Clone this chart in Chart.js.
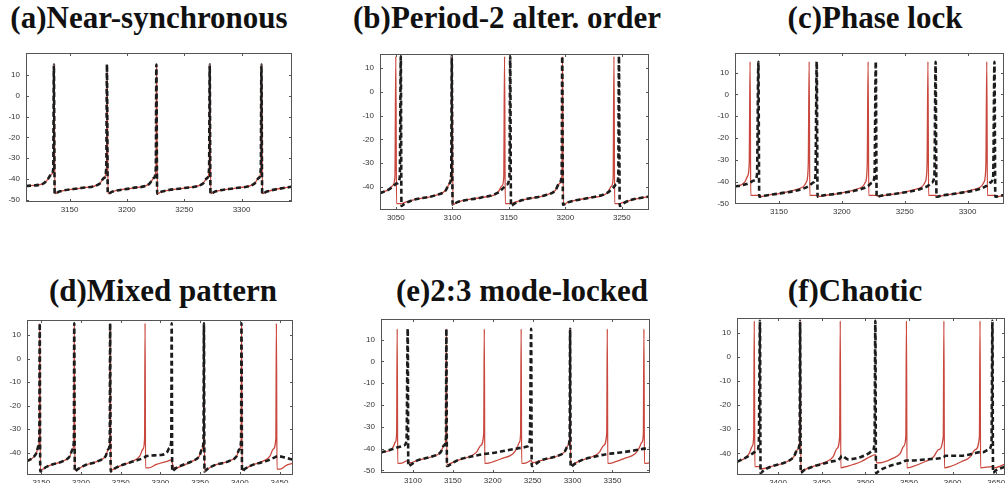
<!DOCTYPE html>
<html>
<head>
<meta charset="utf-8">
<script src="https://cdn.jsdelivr.net/npm/chart.js@4"></script>
<style>
  body { margin: 0; width: 1006px; height: 483px; overflow: hidden; background: #fff; position: relative; }
  .title { position: absolute; font: bold 31px "Liberation Serif", "Times New Roman", serif; line-height: 31px; white-space: nowrap; transform: translateX(-50%); color: #111; }
  canvas { position: absolute; }
</style>
</head>
<body>
<script>
// membrane potential traces, [time, mV]; black = cell 1 (dashed), red = cell 2
const yTicks = [-50, -40, -30, -20, -10, 0, 10]

const nearSyncTicks = [3150, 3200, 3250, 3300]
const nearSyncBlack = [[3112,-43.3],[3127,-42.2],[3131,-40],[3134.5,-37.5],[3135.8,-35],[3136.3,15],[3137,-47],[3141,-46],[3160,-44.3],[3176,-42.3],[3180,-39.5],[3182,-35],[3182.6,15],[3183.3,-47],[3187.5,-46],[3205,-44.3],[3219.5,-42.3],[3223.5,-39.5],[3225.2,-35],[3225.7,15],[3226.4,-47],[3230.5,-46],[3250,-44.3],[3266,-42.3],[3270,-39.5],[3271.7,-35],[3272.2,15],[3272.9,-47],[3277,-46],[3295,-44.3],[3311,-42.3],[3315,-39.5],[3316.8,-35],[3317.3,15],[3318,-47],[3322,-46],[3344,-43.6]]
const nearSyncRed = [[3112,-43.3],[3127,-42.2],[3131,-40.2],[3134.6,-37.5],[3136,-35],[3136.5,15],[3137.2,-47],[3141,-46],[3160,-44.3],[3176,-42.3],[3180,-39.5],[3182.2,-35],[3182.8,15],[3183.5,-47],[3187.5,-46],[3205,-44.3],[3219.5,-42.3],[3223.5,-39.5],[3225.4,-35],[3225.9,15],[3226.6,-47],[3230.5,-46],[3250,-44.3],[3266,-42.3],[3270,-39.5],[3271.9,-35],[3272.4,15],[3273.1,-47],[3277,-46],[3295,-44.3],[3311,-42.3],[3315,-39.5],[3317,-35],[3317.5,15],[3318.2,-47],[3322,-46],[3344,-43.6]]

const period2Ticks = [3050, 3100, 3150, 3200, 3250]
const period2Black = [[3036,-42.6],[3044,-41],[3048,-39.5],[3051,-38.5],[3053.5,-36],[3054.4,15],[3055,-48],[3058,-47],[3065,-45.5],[3085,-43.5],[3094,-41.5],[3097.5,-38.5],[3099,-35],[3099.5,15],[3100.2,-47.5],[3104,-46.5],[3125,-44.5],[3140,-42.5],[3145,-40.5],[3148,-39],[3150.5,-36],[3151.2,15],[3151.9,-48],[3155,-47],[3162,-45.5],[3182,-43.5],[3191,-41.5],[3194.7,-38.5],[3196.7,-35],[3197.2,15],[3197.9,-47.5],[3202,-46.5],[3222,-44.5],[3237,-42.5],[3242,-40.5],[3245,-39],[3246.8,-36],[3247.4,15],[3248.1,-48],[3251,-47],[3258,-45.5],[3274,-44]]
const period2Red = [[3036,-42.6],[3044,-41],[3047,-39.5],[3049.2,-36],[3050,15],[3050.6,-47],[3055,-47],[3058,-46.5],[3065,-45.5],[3085,-43.5],[3094,-41.5],[3097.7,-38.5],[3099.3,-35],[3099.8,15],[3100.5,-47.5],[3104,-46.5],[3125,-44.5],[3140,-42.5],[3144,-39.5],[3145.5,-36],[3146.2,15],[3146.8,-47],[3151,-47],[3155,-46.5],[3162,-45.5],[3182,-43.5],[3191,-41.5],[3195,-38.5],[3197,-35],[3197.5,15],[3198.2,-47.5],[3202,-46.5],[3222,-44.5],[3237,-42.5],[3241,-39.5],[3242.3,-36],[3243,15],[3243.6,-47],[3248,-47],[3251,-46.5],[3258,-45.5],[3274,-44]]

const phaseLockTicks = [3150, 3200, 3250, 3300]
const phaseLockBlack = [[3115,-42.3],[3122,-41.5],[3127,-40.5],[3130,-39.5],[3132.5,-37],[3133.6,15],[3134.3,-47],[3138,-46.5],[3150,-45.5],[3168,-43.5],[3174,-42],[3177,-40.5],[3179,-37.5],[3180,15],[3180.7,-47],[3184,-46.5],[3197,-45.5],[3215,-43.5],[3221,-42],[3224,-40.5],[3226,-37.5],[3227,15],[3227.7,-47],[3231,-46.5],[3244,-45.5],[3262,-43.5],[3268.5,-42],[3271.5,-40.5],[3273.6,-37.5],[3274.6,15],[3275.3,-47],[3279,-46.5],[3291,-45.5],[3309,-43.5],[3315,-42],[3318,-40.5],[3320.4,-37.5],[3321.4,15],[3322.1,-47],[3326,-46.5],[3329,-46.2]]
const phaseLockRed = [[3115,-42.3],[3120,-41.5],[3123,-40],[3125,-37.5],[3126.3,-32],[3127,15],[3127.5,-46.3],[3133.6,-46.3],[3136,-46.8],[3140,-46.3],[3150,-45.5],[3163,-43.8],[3169,-42.5],[3172,-40],[3173.3,-32],[3174,15],[3174.5,-46.3],[3180,-46.3],[3182.5,-46.8],[3187,-46.3],[3197,-45.5],[3210,-43.8],[3216,-42.5],[3219,-40],[3220.2,-32],[3220.9,15],[3221.4,-46.3],[3227,-46.3],[3229.5,-46.8],[3234,-46.3],[3244,-45.5],[3257,-43.8],[3263.5,-42.5],[3266.5,-40],[3267.8,-32],[3268.5,15],[3269,-46.3],[3274.6,-46.3],[3277,-46.8],[3281,-46.3],[3291,-45.5],[3304,-43.8],[3310.3,-42.5],[3313.3,-40],[3314.6,-32],[3315.3,15],[3315.8,-46.3],[3321.4,-46.3],[3324,-46.8],[3329,-46.4]]

const mixedTicks = [3150, 3200, 3250, 3300, 3350, 3400, 3450]
const mixedBlack = [[3132,-43.6],[3140,-42],[3144,-40],[3146.5,-37],[3147.5,-34],[3148,15],[3148.7,-48],[3152,-47],[3160,-45.5],[3178,-43.5],[3186,-41.5],[3189.5,-38.5],[3191,-35],[3191.5,15],[3192.2,-48],[3196,-47],[3204,-45.5],[3222,-43.5],[3231,-41.5],[3234.5,-38.5],[3236.2,-35],[3236.7,15],[3237.4,-48],[3241,-47],[3250,-45.5],[3268,-43.5],[3280,-42],[3282,-41.5],[3300,-41],[3308,-40],[3311.5,-38],[3313.7,-35],[3314.2,15],[3314.9,-48],[3318,-47],[3326,-45.5],[3341,-43.5],[3349,-41.5],[3352.5,-38.5],[3354.3,-35],[3354.8,15],[3355.5,-48],[3359,-47],[3367,-45.5],[3387,-43.5],[3396,-41.5],[3399.5,-38.5],[3401.6,-35],[3402.1,15],[3402.8,-48],[3406,-47],[3414,-45.5],[3434,-43.5],[3444,-42],[3448,-41.5],[3456,-42],[3467,-43]]
const mixedRed = [[3132,-43.6],[3140,-42],[3144,-40],[3146.5,-37],[3147.6,-34],[3148.1,15],[3148.8,-47.5],[3152,-47],[3160,-45.5],[3178,-43.5],[3186,-41.5],[3189.5,-38.5],[3191.1,-35],[3191.6,15],[3192.3,-47.5],[3196,-47],[3204,-45.5],[3222,-43.5],[3231,-41.5],[3234.5,-38.5],[3236.3,-35],[3236.8,15],[3237.5,-47.5],[3241,-47],[3250,-45.5],[3266,-43.5],[3274,-41.5],[3278,-38.5],[3280.1,-34],[3280.7,15],[3281.3,-46.5],[3285,-46.5],[3295,-45],[3310,-43.5],[3314.2,-43],[3316,-46],[3320,-46.5],[3328,-45.5],[3341,-43.5],[3349,-41.5],[3352.5,-38.5],[3354.4,-35],[3354.9,15],[3355.6,-47.5],[3359,-47],[3367,-45.5],[3387,-43.5],[3396,-41.5],[3399.5,-38.5],[3401.7,-35],[3402.2,15],[3402.9,-47.5],[3406,-47],[3414,-45.5],[3430,-43.5],[3438,-41.5],[3442,-38.5],[3445.4,-34],[3446.1,15],[3446.8,-47],[3451,-47],[3458,-45.5],[3467,-44.5]]

const modeLockedTicks = [3100, 3150, 3200, 3250, 3300, 3350]
const modeLockedBlack = [[3060,-41.8],[3072,-40.5],[3080,-39.5],[3085,-39],[3089,-38.5],[3092,-36],[3093.5,15],[3094.2,-48],[3097,-47.5],[3105,-45.5],[3125,-43.5],[3135,-41.5],[3139,-38.5],[3141.4,-35],[3141.9,15],[3142.6,-48],[3146,-47.5],[3155,-45.5],[3175,-43.5],[3189,-42.5],[3200,-42],[3215,-41],[3230,-40],[3238,-39.5],[3243,-39],[3246.5,-36],[3248.1,15],[3248.8,-48],[3252,-47.5],[3260,-45.5],[3280,-43.5],[3290,-41.5],[3294.4,-38.5],[3296.4,-35],[3296.9,15],[3297.6,-48.5],[3301,-47.5],[3310,-45.5],[3330,-43.5],[3343.5,-42.5],[3355,-42],[3375,-41],[3390,-40],[3397,-39.8]]
const modeLockedRed = [[3060,-41.8],[3070,-41],[3075,-39.5],[3078,-37],[3079.6,-33],[3080.3,15],[3080.9,-46.8],[3087,-46.5],[3093.5,-45.5],[3096,-46.5],[3105,-45.5],[3125,-43.5],[3135,-41.5],[3139,-38.5],[3141.3,-35],[3141.8,15],[3142.5,-47.5],[3146,-47],[3155,-45.5],[3172,-43.5],[3180,-41.5],[3185,-38.5],[3188.7,-33],[3189.4,15],[3190,-46.8],[3196,-46.5],[3212,-44.5],[3225,-42.5],[3230,-40],[3233.5,-37],[3234.9,-33],[3235.6,15],[3236.2,-46.8],[3242,-46.5],[3248.1,-45.5],[3250,-46.5],[3260,-45.5],[3280,-43.5],[3290,-41.5],[3294.4,-38.5],[3296.3,-35],[3296.8,15],[3297.5,-47.5],[3301,-47],[3310,-45.5],[3326,-43.5],[3334,-41.5],[3339,-38.5],[3342.8,-33],[3343.5,15],[3344.1,-46.8],[3350,-46.5],[3365,-44.5],[3378,-42.5],[3383,-40],[3387,-37],[3388.7,-33],[3389.4,15],[3390,-46.8],[3397,-46.5]]

const chaoticTicks = [3400, 3450, 3500, 3550, 3600, 3650]
const chaoticBlack = [[3353,-43.5],[3362,-42],[3369,-40.5],[3373,-39.5],[3376,-38.5],[3378,-36],[3379.3,15],[3380,-48.2],[3384,-47],[3392,-45.5],[3410,-43.5],[3418,-41.5],[3422.3,-38.5],[3424.8,-35],[3425.3,15],[3426,-48],[3430,-47],[3440,-45.5],[3460,-43.5],[3471.3,-42],[3473,-41],[3480,-42.5],[3495,-41.5],[3504,-40],[3508,-39],[3510.5,-36],[3511.5,15],[3512.2,-48.2],[3516,-47.2],[3526,-45.5],[3540,-44],[3547.1,-43],[3549,-43],[3570,-42.5],[3590,-41.5],[3592,-41],[3610,-41],[3625,-40],[3631.4,-39.5],[3635,-39.5],[3641,-38.5],[3644.5,-36],[3645.6,15],[3646.3,-48],[3650,-47],[3660,-45.5]]
const chaoticRed = [[3353,-43.5],[3362,-42],[3367,-40],[3370.5,-37],[3372.1,-33],[3372.8,15],[3373.4,-45.5],[3379.3,-45.5],[3381,-46.5],[3392,-45.5],[3410,-43.5],[3418,-41.5],[3422.3,-38.5],[3424.8,-35],[3425.4,15],[3426.1,-47.5],[3430,-46.8],[3440,-45.5],[3455,-43.5],[3463,-41.5],[3467.5,-38],[3470.6,-33],[3471.3,15],[3471.9,-46],[3478,-45.5],[3495,-43.5],[3505,-41.5],[3511.5,-40.5],[3513,-44],[3520,-43.8],[3532,-42],[3540,-40],[3544,-37],[3546.4,-33],[3547.1,15],[3547.7,-46],[3554,-45.5],[3568,-43.5],[3578,-41.5],[3584,-38.5],[3589.3,-33],[3590,15],[3590.6,-46],[3597,-45.5],[3610,-43.5],[3620,-41.5],[3626,-38.5],[3630.7,-33],[3631.4,15],[3632,-46],[3645.6,-45.5],[3648,-46],[3660,-44.5]]

// plot boxes in page pixels: left, top, right, bottom
const panels = [
  { title: '(a)Near-synchronous', tx: 149, ty: 2, box: [26, 53, 292, 202], x: [3112, 3344], y: [-51, 20.5], ticks: nearSyncTicks, black: nearSyncBlack, red: nearSyncRed },
  { title: '(b)Period-2 alter. order', tx: 507, ty: 2, box: [380, 54, 649, 210], x: [3036, 3274], y: [-49.7, 16], ticks: period2Ticks, black: period2Black, red: period2Red },
  { title: '(c)Phase lock', tx: 875, ty: 2, box: [735, 53, 1004, 204], x: [3115, 3329], y: [-50.3, 19], ticks: phaseLockTicks, black: phaseLockBlack, red: phaseLockRed },
  { title: '(d)Mixed pattern', tx: 163, ty: 275, box: [27, 320, 293, 475], x: [3132, 3467], y: [-49.5, 16.4], ticks: mixedTicks, black: mixedBlack, red: mixedRed },
  { title: '(e)2:3 mode-locked', tx: 522, ty: 275, box: [381, 319, 650, 473], x: [3060, 3397], y: [-51.2, 19.5], ticks: modeLockedTicks, black: modeLockedBlack, red: modeLockedRed },
  { title: '(f)Chaotic', tx: 855, ty: 275, box: [737, 318, 1005, 475], x: [3353, 3660], y: [-49, 16.2], ticks: chaoticTicks, black: chaoticBlack, red: chaoticRed },
]

Chart.defaults.font.family = '"Liberation Sans", Arial, sans-serif'

// closed box with short inward ticks on every side
const frame = {
  id: 'frame',
  afterDatasetsDraw(chart) {
    const { ctx, chartArea: a, scales: { x, y } } = chart
    ctx.save()
    ctx.strokeStyle = '#555'
    ctx.lineWidth = 1
    ctx.strokeRect(a.left + 0.5, a.top + 0.5, a.right - a.left - 1, a.bottom - a.top - 1)
    ctx.beginPath()
    x.ticks.forEach(t => {
      const px = Math.round(x.getPixelForValue(t.value)) + 0.5
      ctx.moveTo(px, a.bottom); ctx.lineTo(px, a.bottom - 3)
      ctx.moveTo(px, a.top); ctx.lineTo(px, a.top + 3)
    })
    y.ticks.forEach(t => {
      const py = Math.round(y.getPixelForValue(t.value)) + 0.5
      ctx.moveTo(a.left, py); ctx.lineTo(a.left + 3, py)
      ctx.moveTo(a.right, py); ctx.lineTo(a.right - 3, py)
    })
    ctx.stroke()
    ctx.restore()
  },
}

const noPad = s => { s.paddingTop = 0; s.paddingBottom = 0; s.paddingLeft = 0; s.paddingRight = 0 }

panels.forEach(p => {
  const [L, T, R, B] = p.box
  const title = document.createElement('div')
  title.className = 'title'
  title.textContent = p.title
  title.style.left = p.tx + 'px'
  title.style.top = p.ty + 'px'
  document.body.appendChild(title)

  const canvas = document.createElement('canvas')
  canvas.width = R - L + 32
  canvas.height = B - T + 19
  canvas.style.left = (L - 30) + 'px'
  canvas.style.top = (T - 3) + 'px'
  document.body.appendChild(canvas)

  const yt = yTicks.filter(v => v >= p.y[0] && v <= p.y[1])

  new Chart(canvas, {
    type: 'line',
    data: {
      datasets: [
        {
          data: p.black.map(([x, y]) => ({ x, y })),
          borderColor: '#1c1c1c',
          borderWidth: 2.6,
          borderDash: [5, 3],
          pointRadius: 0,
          cubicInterpolationMode: 'monotone',
          order: 0,
        },
        {
          data: p.red.map(([x, y]) => ({ x, y })),
          borderColor: '#c9473d',
          borderWidth: 1.3,
          pointRadius: 0,
          cubicInterpolationMode: 'monotone',
          order: 1,
        },
      ],
    },
    options: {
      responsive: false,
      animation: false,
      events: [],
      layout: { padding: { top: 3, right: 2, left: 0, bottom: 0 } },
      plugins: { legend: { display: false }, tooltip: { enabled: false } },
      scales: {
        x: {
          type: 'linear',
          min: p.x[0],
          max: p.x[1],
          grid: { display: false, drawTicks: false },
          border: { display: false },
          ticks: { padding: 3, color: '#333', font: { size: 8 }, maxRotation: 0, autoSkip: false, callback: v => String(v) },
          afterBuildTicks: s => { s.ticks = p.ticks.map(v => ({ value: v })) },
          afterFit: s => { s.height = 16; noPad(s) },
        },
        y: {
          min: p.y[0],
          max: p.y[1],
          grid: { display: false, drawTicks: false },
          border: { display: false },
          ticks: { padding: 6, color: '#333', font: { size: 8 }, autoSkip: false, callback: v => String(v) },
          afterBuildTicks: s => { s.ticks = yt.map(v => ({ value: v })) },
          afterFit: s => { s.width = 30; noPad(s) },
        },
      },
    },
    plugins: [frame],
  })
})
</script>
</body>
</html>
